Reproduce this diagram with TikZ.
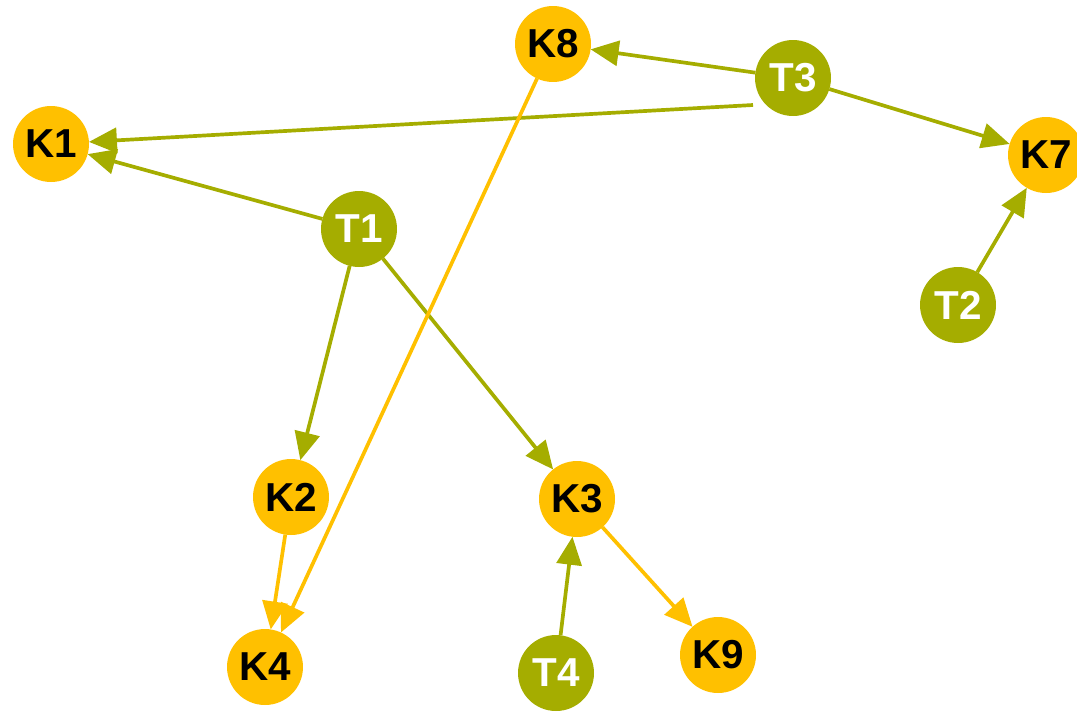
\documentclass[tikz,border=0pt]{standalone}
\usepackage{fontspec}
\setmainfont{Liberation Sans}
\usetikzlibrary{arrows.meta}
\definecolor{gold}{HTML}{FFC000}
\definecolor{olive}{HTML}{A5AD00}
\begin{document}
\begin{tikzpicture}[x=0.02cm,y=-0.02cm,
    ball/.style={circle,minimum size=1.52cm,inner sep=0pt,outer sep=0pt,
      font=\fontsize{23}{26}\selectfont\bfseries},
    kball/.style={ball,fill=gold,text=black},
    tball/.style={ball,fill=olive,text=white},
    link/.style={line width=2.1pt,-{Triangle[length=0.56cm,width=0.5cm]}},
    tlink/.style={link,draw=olive,fill=olive},
    klink/.style={link,draw=gold,fill=gold}]
  \useasboundingbox (0,0) rectangle (1077,711);
  % terms
  \node[tball] (T1) at (359,229) {T1};
  \node[tball] (T2) at (958,305) {T2};
  \node[tball] (T3) at (793,78) {T3};
  \node[tball] (T4) at (556,673) {T4};
  \coordinate (T3k1) at (753,105);
  % keys
  \node[kball] (K1) at (51,144) {K1};
  \node[kball] (K2) at (291,497) {K2};
  \node[kball] (K3) at (577,499) {K3};
  \node[kball] (K4) at (265,667) {K4};
  \node[kball] (K7) at (1046,155) {K7};
  \node[kball] (K8) at (553,44) {K8};
  \node[kball] (K9) at (718,655) {K9};
  % links
  \draw[tlink] (T3) -- (K8);
  \draw[tlink] (T3k1) -- (K1);
  \draw[tlink] (T3) -- (K7);
  \draw[tlink] (T1) -- (K1);
  \draw[tlink] (T1) -- (K2);
  \draw[tlink] (T1) -- (K3);
  \draw[tlink] (T2) -- (K7);
  \draw[tlink] (T4) -- (K3);
  \draw[klink] (K8) -- (K4);
  \draw[klink] (K2) -- (K4);
  \draw[klink] (K3) -- (K9);
\end{tikzpicture}
\end{document}
